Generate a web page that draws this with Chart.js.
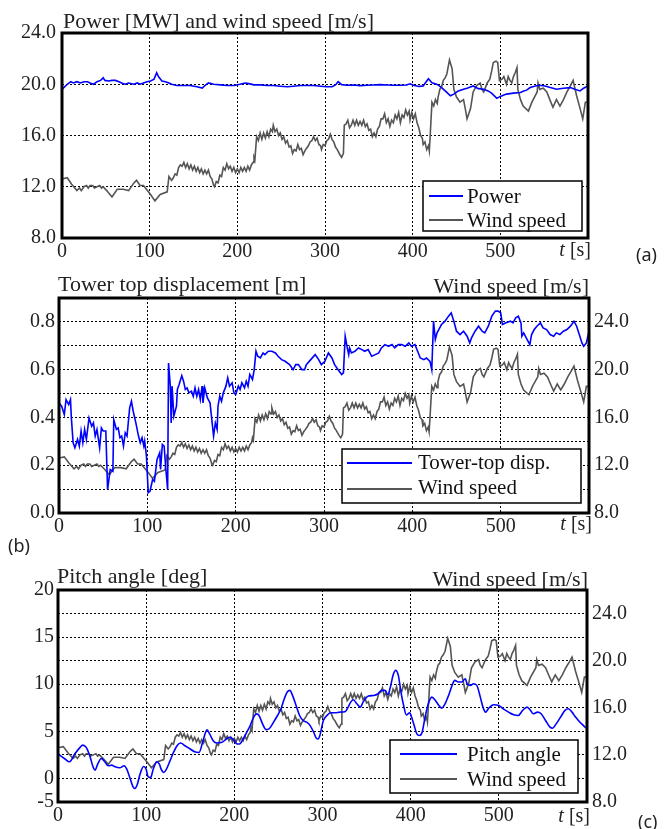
<!DOCTYPE html>
<html>
<head>
<meta charset="utf-8">
<title>Power, tower-top displacement and pitch angle</title>
<script src="https://cdn.jsdelivr.net/npm/chart.js@4.4.0/dist/chart.umd.min.js"></script>
<style>
  html, body { margin: 0; padding: 0; background: #fff; }
  body { width: 668px; height: 829px; position: relative; overflow: hidden; }
  canvas { position: absolute; left: 0; }
</style>
</head>
<body>
<canvas id="chartA" width="668" height="268" style="top:0px;width:668px;height:268px"></canvas>
<canvas id="chartB" width="668" height="287" style="top:268px;width:668px;height:287px"></canvas>
<canvas id="chartC" width="668" height="274" style="top:555px;width:668px;height:274px"></canvas>
<script>
// ---- data ----
// wind speed [m/s] (same record in all three panels)
const windT = [
  0,6,11,17,20,22,25,28,30,32,35,37,40,43,45,47,51,57,63,70,76,82,85,89,93,101,106,112,120,122,125,127,
  129,131,133,135,137,139,141,143,145,147,149,151,153,155,157,159,161,163,165,167,169,171,173,174,176,178,180,182,184,186,188,190,192,194,196,198,200,202,204,206,208,210,212,214,216,218,219,220,
  222,224,226,228,230,232,234,236,238,240,241,243,245,247,249,251,253,255,257,259,261,263,265,267,269,271,273,275,277,279,281,283,285,287,289,291,293,295,296,298,300,302,304,306,308,310,312,314,317,319,321,
  322,324,326,328,330,332,334,336,338,340,342,344,346,348,350,352,354,356,358,360,362,364,366,368,370,372,374,376,378,380,382,384,386,388,390,392,394,396,397,399,401,403,405,407,409,411,412,414,416,418,419,420,
  422,424,426,428,429,431,433,435,437,439,442,445,447,450,454,458,460,462,466,469,473,477,479,481,485,488,490,492,495,497,499,502,504,507,509,511,513,515,517,519,520,523,526,532,536,542,543,545,549,553,557,560,564,568,572,576,580,583,587,591,594,597,600
];
const windV = [
  12.6,12.7,12.2,11.7,11.9,11.7,12.0,12.1,11.9,12.1,12.1,11.9,12.0,12.1,11.9,12.0,11.7,11.2,11.8,11.8,11.7,12.3,12.5,12.1,12.1,11.4,10.9,11.4,11.6,12.8,12.5,12.7,
  13.0,12.9,13.5,13.7,13.6,13.9,13.5,13.8,13.4,13.7,13.3,13.6,13.2,13.5,13.1,13.4,13.0,13.3,13.0,13.3,12.8,12.6,12.1,12.0,12.4,12.3,12.9,12.8,13.5,13.3,13.8,13.4,13.6,13.2,13.5,13.1,13.4,13.1,13.5,13.2,13.5,13.2,13.6,13.3,13.7,13.9,14.3,14.1,
  15.9,15.6,16.2,15.7,16.2,15.8,16.3,15.9,16.5,16.3,16.8,16.3,16.5,16.0,16.2,15.7,15.9,15.4,15.6,15.1,15.2,14.6,14.9,14.8,15.3,14.9,15.0,14.5,14.8,15.0,15.2,15.5,15.6,15.9,15.6,15.8,15.3,15.2,14.9,15.3,15.2,15.6,15.7,16.1,15.7,15.5,15.1,14.9,14.5,14.3,14.6,
  16.8,16.9,17.2,16.6,16.8,17.2,16.8,17.2,16.8,17.1,16.8,17.2,16.7,16.9,16.4,16.5,15.9,16.2,15.9,16.5,16.7,17.3,17.3,17.7,17.0,17.3,16.7,17.2,17.0,17.6,17.3,17.8,17.0,17.6,17.4,18.0,17.6,17.9,17.2,17.8,17.3,17.7,17.0,16.6,16.0,15.8,15.3,15.5,14.9,15.2,14.8,16.0,
  18.6,18.3,18.8,18.5,19.0,19.6,19.8,20.3,20.5,20.8,21.9,21.2,19.6,19.0,18.6,18.8,18.1,17.3,18.1,19.4,19.9,20.1,19.6,19.4,20.1,20.4,21.0,21.7,21.8,21.7,20.3,20.4,20.6,20.0,20.6,20.3,20.1,20.6,20.9,21.3,19.6,18.8,18.3,17.9,18.6,19.4,20.1,19.6,19.7,19.4,18.7,18.2,18.8,18.3,18.8,19.4,19.9,20.3,19.1,18.1,17.3,18.6,18.6
];

// power [MW]
const powerT = [0,6,10,13,17,21,25,29,32,36,40,44,47,49,53,57,61,65,68,72,76,82,86,89,93,97,101,105,108,110,114,118,122,125,131,139,146,154,160,163,167,173,181,188,196,203,209,213,219,226,234,241,249,257,264,272,279,287,295,302,308,312,315,319,325,333,340,348,355,363,371,378,386,393,397,401,407,412,416,418,422,428,433,439,443,447,452,458,462,469,475,481,486,490,496,500,507,515,523,526,530,534,540,545,551,557,564,572,580,585,591,595,600];
const powerV = [19.6,20.0,20.2,20.1,20.2,20.1,20.2,20.2,20.1,20.0,20.2,20.3,20.5,20.3,20.25,20.3,20.3,20.2,20.1,20.0,20.1,20.0,20.1,20.0,20.1,20.2,20.25,20.4,20.9,20.6,20.25,20.2,20.1,20.0,19.9,19.9,19.9,19.8,19.7,19.9,20.1,20.0,19.95,19.9,19.9,20.0,20.1,20.05,19.95,19.95,19.9,19.9,19.85,19.8,19.85,19.9,19.9,19.9,19.85,19.8,19.8,19.95,20.2,19.97,19.92,19.94,19.89,19.92,19.94,19.97,19.94,19.92,19.92,19.94,20.04,19.92,19.82,19.87,20.25,20.43,20.12,19.99,19.74,19.36,19.1,19.23,19.48,19.61,19.69,19.87,19.66,19.61,19.48,19.31,18.9,19.05,19.23,19.31,19.36,19.46,19.54,19.74,19.87,19.92,19.87,19.74,19.61,19.69,19.74,19.61,19.48,19.69,19.87];

// tower-top displacement [m]
const towerT = [0,3,6,8,11,13,14,16,18,21,23,25,27,29,31,34,37,39,41,43,46,48,50,53,55,58,61,62,65,67,69,71,73,75,77,80,82,84,87,90,92,94,96,97,99,101,103,106,108,111,114,115,117,119,121,123,124,126,127,128,130,133,134,136,139,141,143,145,147,150,152,154,156,158,160,162,163,165,168,171,173,175,177,179,180,182,184,186,189,191,193,196,198,200,203,205,207,210,212,214,216,219,221,223,225,228,231,233,237,241,245,248,252,256,261,265,268,271,275,278,280,285,290,294,297,301,305,309,312,316,320,322,324,326,328,329,331,335,339,343,346,350,354,358,362,365,369,373,377,380,384,388,392,396,399,403,406,409,413,416,420,422,424,426,428,431,433,437,441,444,447,450,454,458,462,465,467,471,475,479,482,486,490,494,497,500,502,506,511,514,517,520,523,524,526,530,533,535,538,541,545,548,552,556,560,563,567,571,575,579,583,586,589,592,594,597,600];
const towerV = [0.461,0.447,0.412,0.475,0.454,0.475,0.398,0.294,0.273,0.308,0.28,0.343,0.294,0.35,0.308,0.398,0.363,0.377,0.322,0.35,0.273,0.356,0.343,0.343,0.098,0.182,0.175,0.391,0.35,0.356,0.315,0.322,0.28,0.336,0.322,0.44,0.468,0.426,0.377,0.322,0.294,0.315,0.28,0.301,0.238,0.085,0.091,0.14,0.133,0.224,0.252,0.182,0.287,0.28,0.182,0.098,0.628,0.531,0.377,0.531,0.405,0.447,0.517,0.538,0.575,0.552,0.517,0.524,0.503,0.51,0.489,0.524,0.489,0.517,0.475,0.531,0.461,0.524,0.482,0.461,0.391,0.322,0.377,0.35,0.447,0.489,0.468,0.503,0.531,0.566,0.531,0.545,0.503,0.496,0.531,0.517,0.545,0.524,0.552,0.531,0.58,0.559,0.6,0.677,0.656,0.649,0.67,0.663,0.677,0.677,0.67,0.656,0.642,0.635,0.621,0.6,0.621,0.621,0.6,0.6,0.621,0.642,0.663,0.642,0.621,0.635,0.67,0.649,0.621,0.6,0.58,0.587,0.74,0.698,0.663,0.691,0.67,0.677,0.691,0.684,0.677,0.684,0.656,0.663,0.67,0.691,0.705,0.698,0.705,0.691,0.705,0.705,0.698,0.712,0.698,0.705,0.677,0.649,0.642,0.649,0.635,0.6,0.803,0.726,0.754,0.775,0.789,0.803,0.824,0.838,0.803,0.761,0.747,0.761,0.74,0.712,0.733,0.761,0.782,0.761,0.754,0.782,0.824,0.845,0.845,0.838,0.789,0.796,0.803,0.796,0.817,0.824,0.796,0.74,0.754,0.726,0.705,0.747,0.768,0.782,0.796,0.775,0.768,0.747,0.74,0.754,0.747,0.761,0.768,0.782,0.803,0.782,0.747,0.712,0.698,0.712,0.761];

// pitch angle [deg]
const pitchT = [0,8,13,19,25,28,32,36,40,42,45,49,53,57,61,64,70,75,78,82,85,87,90,93,97,100,102,105,108,112,115,117,120,123,127,131,135,139,144,150,155,160,164,167,169,172,176,180,186,191,195,199,203,206,210,214,218,221,225,228,232,236,240,244,249,253,256,260,263,266,270,274,278,282,286,290,293,295,297,301,305,309,314,320,326,329,332,335,339,343,346,352,358,363,367,371,374,377,380,383,386,389,392,395,399,401,404,407,410,413,416,420,424,428,432,435,439,443,447,450,454,458,462,464,468,471,475,479,482,485,488,494,500,505,511,517,522,527,532,536,539,544,548,553,558,561,565,570,575,579,583,587,592,596,600];
const pitchV = [2.6,2.06,1.77,2.59,3.3,3.54,3.3,2.41,1.17,0.88,1.52,2.12,1.77,1.34,1.41,1.27,1.13,1.34,0.98,-0.08,-0.86,-1.07,-0.61,0.45,1.27,0.98,0.2,0.09,0.98,1.77,1.52,0.98,0.63,0.98,1.87,2.76,3.47,3.76,3.47,3.12,2.83,2.76,3.83,4.79,5.15,4.72,4.01,3.76,3.83,4.19,4.37,4.12,3.65,3.65,4.19,4.9,5.61,6.32,6.85,6.68,5.79,5.18,5.33,5.9,6.68,7.39,8.28,9.17,9.35,8.81,7.75,6.68,6.15,5.97,5.61,4.9,4.26,4.19,4.55,6.15,6.68,6.97,6.97,7.04,7.11,7.57,8.1,8.35,7.92,7.57,8.1,8.74,8.81,8.99,9.35,9.35,8.88,9.7,10.94,11.47,10.94,9.17,7.75,6.75,6.97,6.51,5.61,4.72,4.55,4.9,6.32,7.92,8.63,8.28,7.75,7.46,7.92,8.81,9.88,10.41,10.23,10.23,10.58,10.05,9.88,10.05,9.88,8.63,7.57,7.04,7.39,7.82,7.75,7.39,7.04,6.75,6.68,7.22,7.57,7.22,6.86,7.04,6.86,6.15,5.44,5.33,5.79,6.51,7.22,7.39,7.04,6.51,5.97,5.61,5.26];

// tick values
const timeTicks = [0, 100, 200, 300, 400, 500, 600];
const powerTicks = [8, 12, 16, 20, 24];
const towerTicks = [0, 0.1, 0.2, 0.3, 0.4, 0.5, 0.6, 0.7, 0.8, 0.9];
const pitchTicks = [-2.5, 0, 2.5, 5, 7.5, 10, 12.5, 15, 17.5, 20];
const windTicks = [8, 12, 16, 20, 24];

// ---- styling ----
const SERIF = "'Liberation Serif', 'DejaVu Serif', serif";
const SANS = "'Noto Sans', 'Open Sans', sans-serif";
const INK = '#222';
const BLUE = '#0000ff';
const GRAY = '#555555';

function pts(ts, vs) {
  return ts.map((t, i) => ({ x: t, y: vs[i] }));
}

function xAxis(h) {
  return {
    type: 'linear', position: 'bottom', min: 0, max: 600,
    afterBuildTicks: s => { s.ticks = timeTicks.map(v => ({ value: v })); },
    afterFit: s => { s.height = h; },
    ticks: {
      color: INK, font: { family: SERIF, size: 20 }, padding: 2, maxRotation: 0, autoSkip: false,
      callback: v => (v < 600 ? String(v) : '')
    },
    grid: { color: '#000', lineWidth: 1, drawTicks: false },
    border: { display: false, dash: [2, 2] }
  };
}

function yAxis(pos, min, max, tickList, fmt, w, pad, showGrid) {
  return {
    type: 'linear', position: pos, min: min, max: max,
    afterBuildTicks: s => { s.ticks = tickList.map(v => ({ value: v })); },
    afterFit: s => { s.width = w; },
    ticks: { color: INK, font: { family: SERIF, size: 20 }, padding: pad, autoSkip: false, callback: fmt },
    grid: { display: showGrid, color: '#000', lineWidth: 1, drawTicks: false },
    border: { display: false, dash: [2, 2] }
  };
}

// thick black frame round the plot area
const framePlugin = {
  id: 'frame',
  afterDraw(chart) {
    const a = chart.chartArea, ctx = chart.ctx;
    ctx.save();
    ctx.strokeStyle = '#000';
    ctx.lineWidth = 3;
    ctx.strokeRect(a.left, a.top, a.right - a.left, a.bottom - a.top);
    ctx.restore();
  }
};

// boxed legend inside the plot
const boxLegendPlugin = {
  id: 'boxLegend',
  afterDraw(chart, args, o) {
    const ctx = chart.ctx;
    ctx.save();
    ctx.fillStyle = '#fff';
    ctx.fillRect(o.x, o.y, o.w, o.h);
    ctx.strokeStyle = '#000';
    ctx.lineWidth = 1.5;
    ctx.strokeRect(o.x, o.y, o.w, o.h);
    ctx.font = '21px ' + SERIF;
    ctx.textAlign = 'left';
    ctx.textBaseline = 'alphabetic';
    chart.data.datasets.forEach((ds, i) => {
      const r = o.rows[i];
      ctx.strokeStyle = ds.borderColor;
      ctx.lineWidth = 2;
      ctx.beginPath();
      ctx.moveTo(o.x1, r[0]);
      ctx.lineTo(o.x2, r[0]);
      ctx.stroke();
      ctx.fillStyle = '#111';
      ctx.fillText(ds.label, o.tx, r[1]);
    });
    ctx.restore();
  }
};

// titles, panel letters and the "t [s]" axis name
const textPlugin = {
  id: 'texts',
  afterDraw(chart, args, o) {
    const ctx = chart.ctx, a = chart.chartArea;
    ctx.save();
    ctx.fillStyle = INK;
    ctx.textBaseline = 'alphabetic';
    o.items.forEach(it => {
      ctx.font = it.font;
      ctx.textAlign = it.align || 'left';
      ctx.fillText(it.text, it.x, it.y);
    });
    // t [s]
    ctx.textAlign = 'right';
    ctx.font = '20px ' + SERIF;
    const right = a.right + 3;
    ctx.fillText(' [s]', right, o.tBase);
    const w = ctx.measureText(' [s]').width;
    ctx.font = 'italic 20px ' + SERIF;
    ctx.fillText('t', right - w, o.tBase);
    ctx.restore();
  }
};

const TITLE = '22px ' + SERIF;
const LETTER = '18px ' + SANS;

function lineSet(label, data, color, axis, smooth) {
  return {
    label: label, data: data, yAxisID: axis,
    borderColor: color, backgroundColor: color,
    borderWidth: 1.6, pointRadius: 0, fill: false,
    tension: smooth ? 0.4 : 0,
    cubicInterpolationMode: smooth ? 'monotone' : 'default'
  };
}

const common = {
  responsive: false, animation: false, events: []
};

// ---- (a) power and wind speed ----
new Chart(document.getElementById('chartA'), {
  type: 'line',
  data: {
    datasets: [
      lineSet('Power', pts(powerT, powerV), BLUE, 'y', false),
      lineSet('Wind speed', pts(windT, windV), GRAY, 'y', false)
    ]
  },
  options: Object.assign({}, common, {
    layout: { autoPadding: false, padding: { left: 0, right: 80, top: 33, bottom: 0 } },
    scales: {
      x: xAxis(30),
      y: yAxis('left', 8, 24, powerTicks, v => v.toFixed(1), 62, 6, true)
    },
    plugins: {
      legend: { display: false }, tooltip: { enabled: false },
      boxLegend: { x: 423, y: 181, w: 159, h: 50, x1: 429, x2: 463, tx: 467, rows: [[196, 203], [220, 227]] },
      texts: {
        tBase: 256,
        items: [
          { text: 'Power [MW] and wind speed [m/s]', x: 63, y: 28, font: TITLE },
          { text: '(a)', x: 636, y: 261, font: LETTER }
        ]
      }
    }
  }),
  plugins: [framePlugin, boxLegendPlugin, textPlugin]
});

// ---- (b) tower-top displacement and wind speed ----
new Chart(document.getElementById('chartB'), {
  type: 'line',
  data: {
    datasets: [
      lineSet('Tower-top disp.', pts(towerT, towerV), BLUE, 'y', false),
      lineSet('Wind speed', pts(windT, windV), GRAY, 'y2', false)
    ]
  },
  options: Object.assign({}, common, {
    layout: { autoPadding: false, padding: { left: 0, right: 0, top: 30, bottom: 0 } },
    scales: {
      x: xAxis(42),
      y: yAxis('left', 0, 0.9, towerTicks,
        v => (Math.round(v * 10) % 2 === 0 && v < 0.85 ? v.toFixed(1) : ''), 59, 4, true),
      y2: yAxis('right', 8, 26, windTicks, v => v.toFixed(1), 79, 5, false)
    },
    plugins: {
      legend: { display: false }, tooltip: { enabled: false },
      boxLegend: { x: 342, y: 181, w: 239, h: 54, x1: 347, x2: 412, tx: 418, rows: [[195, 201], [221, 226]] },
      texts: {
        tBase: 262,
        items: [
          { text: 'Tower top displacement [m]', x: 58, y: 23, font: TITLE },
          { text: 'Wind speed [m/s]', x: 589, y: 25, font: TITLE, align: 'right' },
          { text: '(b)', x: 8, y: 284, font: LETTER }
        ]
      }
    }
  }),
  plugins: [framePlugin, boxLegendPlugin, textPlugin]
});

// ---- (c) pitch angle and wind speed ----
new Chart(document.getElementById('chartC'), {
  type: 'line',
  data: {
    datasets: [
      lineSet('Pitch angle', pts(pitchT, pitchV), BLUE, 'y', true),
      lineSet('Wind speed', pts(windT, windV), GRAY, 'y2', false)
    ]
  },
  options: Object.assign({}, common, {
    layout: { autoPadding: false, padding: { left: 0, right: 0, top: 35, bottom: 0 } },
    scales: {
      x: xAxis(27),
      y: yAxis('left', -2.5, 20, pitchTicks,
        v => (v === -2.5 ? '-5' : (v % 5 === 0 ? String(v) : '')), 58, 4, true),
      y2: yAxis('right', 8, 26, windTicks, v => v.toFixed(1), 81, 5, false)
    },
    plugins: {
      legend: { display: false }, tooltip: { enabled: false },
      boxLegend: { x: 390, y: 185, w: 188, h: 53, x1: 400, x2: 457, tx: 467, rows: [[199, 206], [224, 231]] },
      texts: {
        tBase: 267,
        items: [
          { text: 'Pitch angle [deg]', x: 57, y: 28, font: TITLE },
          { text: 'Wind speed [m/s]', x: 588, y: 31, font: TITLE, align: 'right' },
          { text: '(c)', x: 638, y: 273, font: LETTER }
        ]
      }
    }
  }),
  plugins: [framePlugin, boxLegendPlugin, textPlugin]
});
</script>
</body>
</html>
